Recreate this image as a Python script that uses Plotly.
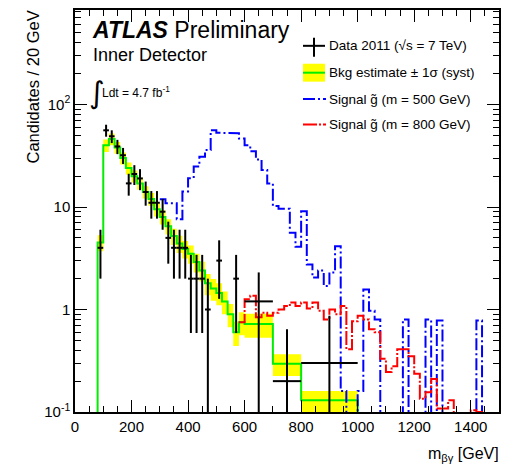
import plotly.graph_objects as go

# ---------------- observed data (events / 20 GeV) ----------------
data_lo = [80, 100, 120, 140, 160, 180, 200, 220, 240, 260, 280, 300, 320,
           340, 360, 380, 400, 420, 440, 460, 500, 560, 600, 700, 800]
data_hi = [100, 120, 140, 160, 180, 200, 220, 240, 260, 280, 300, 320, 340,
           360, 380, 400, 420, 440, 460, 480, 520, 580, 700, 800, 1000]
data_val = [4, 56, 49, 39, 32, 17, 21, 19, 14, 11, 11, 9, 5,
            4, 4, 4, 2, 2, 2, 1, 3, 2, 1.2, 0.2, 0.3]
data_err_up = [2, 7.5, 7, 6.2, 5.7, 4.1, 4.6, 4.4, 3.7, 3.3, 3.3, 3, 2.2,
               2, 2, 2, 1.41, 1.41, 1.41, 1, 1.73, 1.41, 1.1, 0.44, 0.57]
data_err_dn = [2, 7.5, 7, 6.2, 5.7, 4.1, 4.6, 4.4, 3.7, 3.3, 3.3, 3, 2.2,
               2, 2, 2, 1.41, 1.41, 1.41, 1, 1.73, 1.41, 1.2, 0.2, 0.3]

# ---------------- background estimate with systematic band ----------------
bkg_lo = [80, 100, 120, 140, 160, 180, 200, 220, 240, 260, 280, 300, 320,
          340, 360, 380, 400, 420, 440, 460, 480, 500, 520, 540, 560, 580,
          600, 700, 800]
bkg_hi = [100, 120, 140, 160, 180, 200, 220, 240, 260, 280, 300, 320, 340,
          360, 380, 400, 420, 440, 460, 480, 500, 520, 540, 560, 580, 600,
          700, 800, 1000]
bkg_val = [4.5, 40, 46, 38, 30, 24, 20, 17, 14, 12, 9.5, 8, 6.5,
           5.2, 4.4, 3.9, 3.5, 2.9, 2.4, 1.8, 1.6, 1.45, 1.2, 0.9, 0.6, 0.75,
           0.72, 0.295, 0.13]
bkg_err = [0.8, 5.5, 6, 5, 4, 3.2, 2.7, 2.3, 1.9, 1.7, 1.4, 1.25, 1.1,
           0.95, 0.85, 0.75, 0.7, 0.6, 0.52, 0.42, 0.38, 0.35, 0.3, 0.23, 0.16, 0.19,
           0.19, 0.07, 0.03]

# ---------------- signal samples (20 GeV bins) ----------------
sig500_start = 300
sig500_val = [11.9, 10.9, 10.9, 7.6, 14.2, 19.1, 24.8, 31, 36, 56,
              53, 52.5, 52.5, 52.5, 46.5, 40, 35, 29, 23, 17,
              10.2, 9.6, 9.6, 5.6, 4.1, 9.1, 2.75, 2.05, 2.4, 1.7,
              2.3, 4.15, 0.16, 0, 0, 0.16, 1.57, 0.97, 0.8, 0,
              0, 0, 0, 0.8, 0, 0, 0, 0.8, 0, 0.78,
              0, 0, 0, 0, 0, 0, 0.78]
sig800_start = 580
sig800_val = [0.75, 1.26, 1.36, 0.84, 0.93, 0.87, 0.93, 1.0, 1.08, 1.17,
              1.08, 1.17, 1.02, 1.17, 0.97, 0.8, 1.0, 0.9, 1.08, 0.41,
              0.77, 0.87, 0.8, 0.64, 0.6, 0.33, 0.245, 0.28, 0.41, 0.41,
              0.35, 0.236, 0.135, 0.156, 0.21, 0.108, 0.108, 0.13, 0, 0,
              0, 0.104, 0.1]
bin_w = 20

x_ticks = [0, 200, 400, 600, 800, 1000, 1200, 1400]
y_ticks = [0.1, 1, 10, 100]
y_ticktext = ["10<sup>-1</sup>", "1", "10", "10<sup>2</sup>"]

FLOOR = 0.05  # empty bins are drawn below the axis minimum
FONT = "Liberation Sans, Arial, Helvetica, sans-serif"

W, H = 510, 469
ML, MR, MT, MB = 75, 11, 8, 57
PW, PH = W - ML - MR, H - MT - MB


def px_x(px):
    return (px - ML) / PW


def px_y(py):
    return (H - MB - py) / PH


def steps(lo, hi, vals, drop_start=False, drop_end=False):
    xs, ys = [], []
    if drop_start:
        xs.append(lo[0]); ys.append(FLOOR)
    for a, b, v in zip(lo, hi, vals):
        v = v if v > 0 else FLOOR
        xs += [a, b]; ys += [v, v]
    if drop_end:
        xs.append(hi[-1]); ys.append(FLOOR)
    return xs, ys


fig = go.Figure()

# systematic band
up_x, up_y = steps(bkg_lo, bkg_hi, [v + e for v, e in zip(bkg_val, bkg_err)])
dn_x, dn_y = steps(bkg_lo, bkg_hi, [v - e for v, e in zip(bkg_val, bkg_err)])
fig.add_trace(go.Scatter(x=up_x + dn_x[::-1], y=up_y + dn_y[::-1], mode="lines",
                         fill="toself", fillcolor="#ffff00",
                         line=dict(width=0, color="#ffff00"),
                         hoverinfo="skip", showlegend=False))

# background central value
bx, by = steps(bkg_lo, bkg_hi, bkg_val, drop_start=True, drop_end=True)
fig.add_trace(go.Scatter(x=bx, y=by, mode="lines",
                         line=dict(color="#00ee00", width=2),
                         showlegend=False))

# signal m = 500 GeV
s5_lo = [sig500_start + i * bin_w for i in range(len(sig500_val))]
s5_hi = [a + bin_w for a in s5_lo]
sx, sy = steps(s5_lo, s5_hi, sig500_val, drop_end=True)
fig.add_trace(go.Scatter(x=sx, y=sy, mode="lines",
                         line=dict(color="#0000ff", width=2, dash="12px,3px,2px,3px"),
                         showlegend=False))

# signal m = 800 GeV
s8_lo = [sig800_start + i * bin_w for i in range(len(sig800_val))]
s8_hi = [a + bin_w for a in s8_lo]
rx, ry = steps(s8_lo, s8_hi, sig800_val, drop_end=True)
fig.add_trace(go.Scatter(x=rx, y=ry, mode="lines",
                         line=dict(color="#ff0000", width=2, dash="14px,2px,2px,2px"),
                         showlegend=False))

# data points with error bars
d_x = [(a + b) / 2 for a, b in zip(data_lo, data_hi)]
d_hw = [(b - a) / 2 for a, b in zip(data_lo, data_hi)]
d_dn = [min(e, v - FLOOR) for v, e in zip(data_val, data_err_dn)]
fig.add_trace(go.Scatter(x=d_x, y=data_val, mode="markers",
                         marker=dict(color="black", size=2),
                         error_x=dict(type="data", array=d_hw, width=0,
                                      thickness=2, color="black"),
                         error_y=dict(type="data", symmetric=False,
                                      array=data_err_up, arrayminus=d_dn,
                                      width=0, thickness=2, color="black"),
                         showlegend=False))

# ---------------- legend (drawn by hand) ----------------
shapes = []
lx0, lx1 = 303, 325
# data cross
shapes.append(dict(type="line", xref="paper", yref="paper",
                   x0=px_x(lx0), x1=px_x(lx1), y0=px_y(44), y1=px_y(44),
                   line=dict(color="black", width=2)))
shapes.append(dict(type="line", xref="paper", yref="paper",
                   x0=px_x(314), x1=px_x(314), y0=px_y(36), y1=px_y(55),
                   line=dict(color="black", width=2)))
# background box
shapes.append(dict(type="rect", xref="paper", yref="paper",
                   x0=px_x(lx0), x1=px_x(lx1), y0=px_y(62), y1=px_y(80),
                   fillcolor="#ffff00", line=dict(width=0)))
shapes.append(dict(type="line", xref="paper", yref="paper",
                   x0=px_x(lx0), x1=px_x(lx1), y0=px_y(71), y1=px_y(71),
                   line=dict(color="#00ee00", width=2)))
# signal lines
shapes.append(dict(type="line", xref="paper", yref="paper",
                   x0=px_x(lx0), x1=px_x(lx1 + 1), y0=px_y(97.5), y1=px_y(97.5),
                   line=dict(color="#0000ff", width=2, dash="12px,3px,2px,3px")))
shapes.append(dict(type="line", xref="paper", yref="paper",
                   x0=px_x(lx0), x1=px_x(lx1 + 1), y0=px_y(123), y1=px_y(123),
                   line=dict(color="#ff0000", width=2, dash="14px,2px,2px,2px")))

leg_text = [
    ("Data 2011 (√s = 7 TeV)", 44),
    ("Bkg estimate ± 1σ (syst)", 71),
    ("Signal g\u0303 (m = 500 GeV)", 97.5),
    ("Signal g\u0303 (m = 800 GeV)", 123),
]
annotations = []
for txt, yy in leg_text:
    annotations.append(dict(text=txt, xref="paper", yref="paper",
                            x=px_x(327), y=px_y(yy), xanchor="left", yanchor="middle",
                            showarrow=False, font=dict(family=FONT, size=13.5, color="black")))

# labels
annotations.append(dict(text="<b><i>ATLAS</i></b> Preliminary", xref="paper", yref="paper",
                        x=px_x(90), y=px_y(28), xanchor="left", yanchor="middle",
                        showarrow=False, font=dict(family=FONT, size=23, color="black")))
annotations.append(dict(text="Inner Detector", xref="paper", yref="paper",
                        x=px_x(91), y=px_y(53), xanchor="left", yanchor="middle",
                        showarrow=False, font=dict(family=FONT, size=18, color="black")))
annotations.append(dict(text="∫", xref="paper", yref="paper",
                        x=px_x(87), y=px_y(91), xanchor="left", yanchor="middle",
                        showarrow=False, font=dict(family="DejaVu Sans", size=30, color="black")))
annotations.append(dict(text="Ldt = 4.7 fb<sup>-1</sup>", xref="paper", yref="paper",
                        x=px_x(100), y=px_y(90), xanchor="left", yanchor="middle",
                        showarrow=False, font=dict(family=FONT, size=12, color="black")))
# axis titles
annotations.append(dict(text="Candidates / 20 GeV", xref="paper", yref="paper",
                        x=px_x(33), y=px_y(7), xanchor="center", yanchor="top",
                        textangle=-90, showarrow=False,
                        font=dict(family=FONT, size=16.5, color="black")))
annotations.append(dict(text="m<sub>βγ</sub> [GeV]", xref="paper", yref="paper",
                        x=px_x(501), y=px_y(455), xanchor="right", yanchor="middle",
                        showarrow=False, font=dict(family=FONT, size=16, color="black")))

y_minor = [m * 10 ** k for k in (-1, 0, 1, 2) for m in range(2, 10) if m * 10 ** k < 840]

fig.update_layout(
    width=W, height=H,
    margin=dict(l=ML, r=MR, t=MT, b=MB, pad=0),
    paper_bgcolor="white", plot_bgcolor="white",
    shapes=shapes, annotations=annotations,
    font=dict(family=FONT, color="black"),
    xaxis=dict(range=[0, 1500], tickvals=x_ticks, ticks="inside", ticklen=12,
               tickwidth=1, tickcolor="black", mirror="allticks", showline=True,
               linecolor="black", linewidth=1.5, showgrid=False, zeroline=False,
               tickfont=dict(size=15, family=FONT, color="black"),
               minor=dict(dtick=50, ticks="inside", ticklen=6, tickcolor="black",
                          showgrid=False)),
    yaxis=dict(type="log", range=[-1, 2.922], tickvals=y_ticks, ticktext=y_ticktext,
               ticks="inside", ticklen=12, tickwidth=1, tickcolor="black",
               mirror="allticks", showline=True, linecolor="black", linewidth=1.5,
               showgrid=False, zeroline=False,
               tickfont=dict(size=15, family=FONT, color="black"),
               minor=dict(tickvals=y_minor, ticks="inside", ticklen=6,
                          tickcolor="black", showgrid=False)),
    showlegend=False,
)

fig.write_html("out.html")
